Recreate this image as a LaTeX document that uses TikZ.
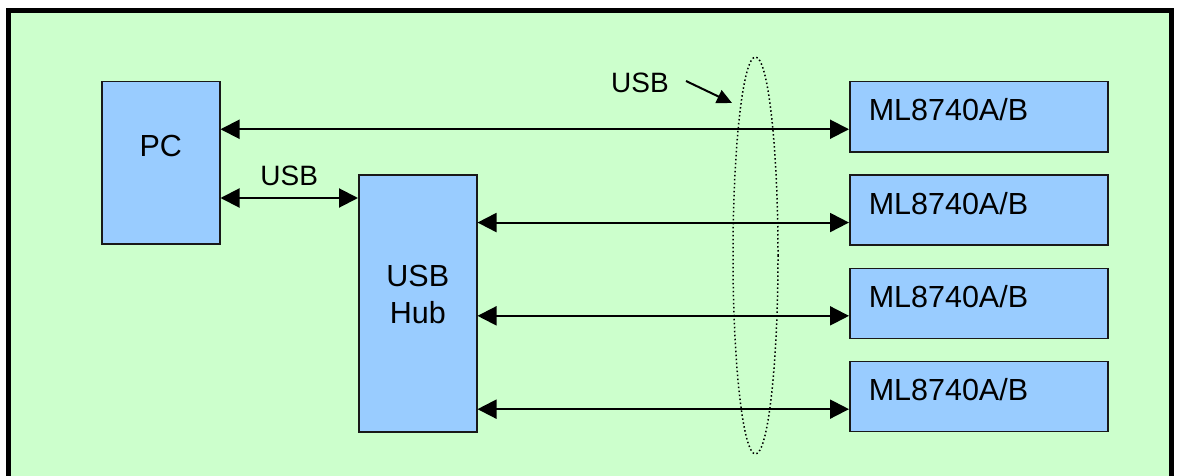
\documentclass[tikz,border=0pt]{standalone}
\usepackage{fontspec}
\setsansfont{Liberation Sans}
\usetikzlibrary{positioning,arrows.meta,shapes.geometric,calc}
\definecolor{panel}{HTML}{CCFFCC}
\definecolor{boxblue}{HTML}{99CCFF}
\tikzset{
  unit/.style={draw=black!90, line width=1.5pt, fill=boxblue,
    font=\sffamily\fontsize{30.5}{36.5}\selectfont, align=center, inner sep=0pt},
  device/.style={unit, minimum height=70pt, text width=220pt, align=left,
    inner xsep=19pt, text depth=14pt},
  link/.style={{Triangle[length=19pt,width=19pt]}-{Triangle[length=19pt,width=19pt]}, line width=2pt},
  pointer/.style={-{Triangle[length=15pt,width=14pt]}, line width=2pt},
  tag/.style={font=\sffamily\fontsize{28}{33}\selectfont, inner sep=0pt},
  bundle/.style={draw, ellipse, line width=1.5pt, dash pattern=on 1.5pt off 2.5pt, inner sep=0pt},
  frame/.style={draw=black, line width=5pt, fill=panel},
}

\begin{document}
\begin{tikzpicture}[x=1pt, y=-1pt]
  \useasboundingbox (0,0) rectangle (1177,476);
  \draw[frame] (8.5,10.5) rectangle (1171.5,478.5);
  % computer and hub
  \node[unit, anchor=north west, minimum width=118pt, minimum height=162pt,
    text depth=33pt] (pc) at (101,81) {PC};
  \node[unit, anchor=north west, minimum width=118pt, minimum height=257pt,
    text depth=18pt] (hub) at (358,174) {USB\\Hub};
  % instruments
  \node[device, anchor=north west] (ml1) at (849,81) {ML8740A/B};
  \node[device, below=21.8pt of ml1] (ml2) {ML8740A/B};
  \node[device, below=21.8pt of ml2] (ml3) {ML8740A/B};
  \node[device, below=21.8pt of ml3] (ml4) {ML8740A/B};
  % cables
  \coordinate (hubin) at ($(hub.north west)+(0,24)$);
  \draw[link] (pc.east |- hubin) -- node[tag, above=11pt] (usbpc) {USB} (hubin);
  \foreach \i in {1,...,4} \coordinate (in\i) at ($(ml\i.west)+(0,12.5)$);
  \draw[link] (pc.east |- in1) -- (in1);
  \foreach \i in {2,3,4} \draw[link] (hub.east |- in\i) -- (in\i);
  \node[bundle, minimum width=45pt, minimum height=397pt] (cable) at (755.5,255.5) {};
  \node[tag] (usbtop) at (640,83) {USB};
  \coordinate (usbtip) at (732,103);
  \draw[pointer] (usbtop.east) ++(17,-2) -- (usbtip);
\end{tikzpicture}
\end{document}
